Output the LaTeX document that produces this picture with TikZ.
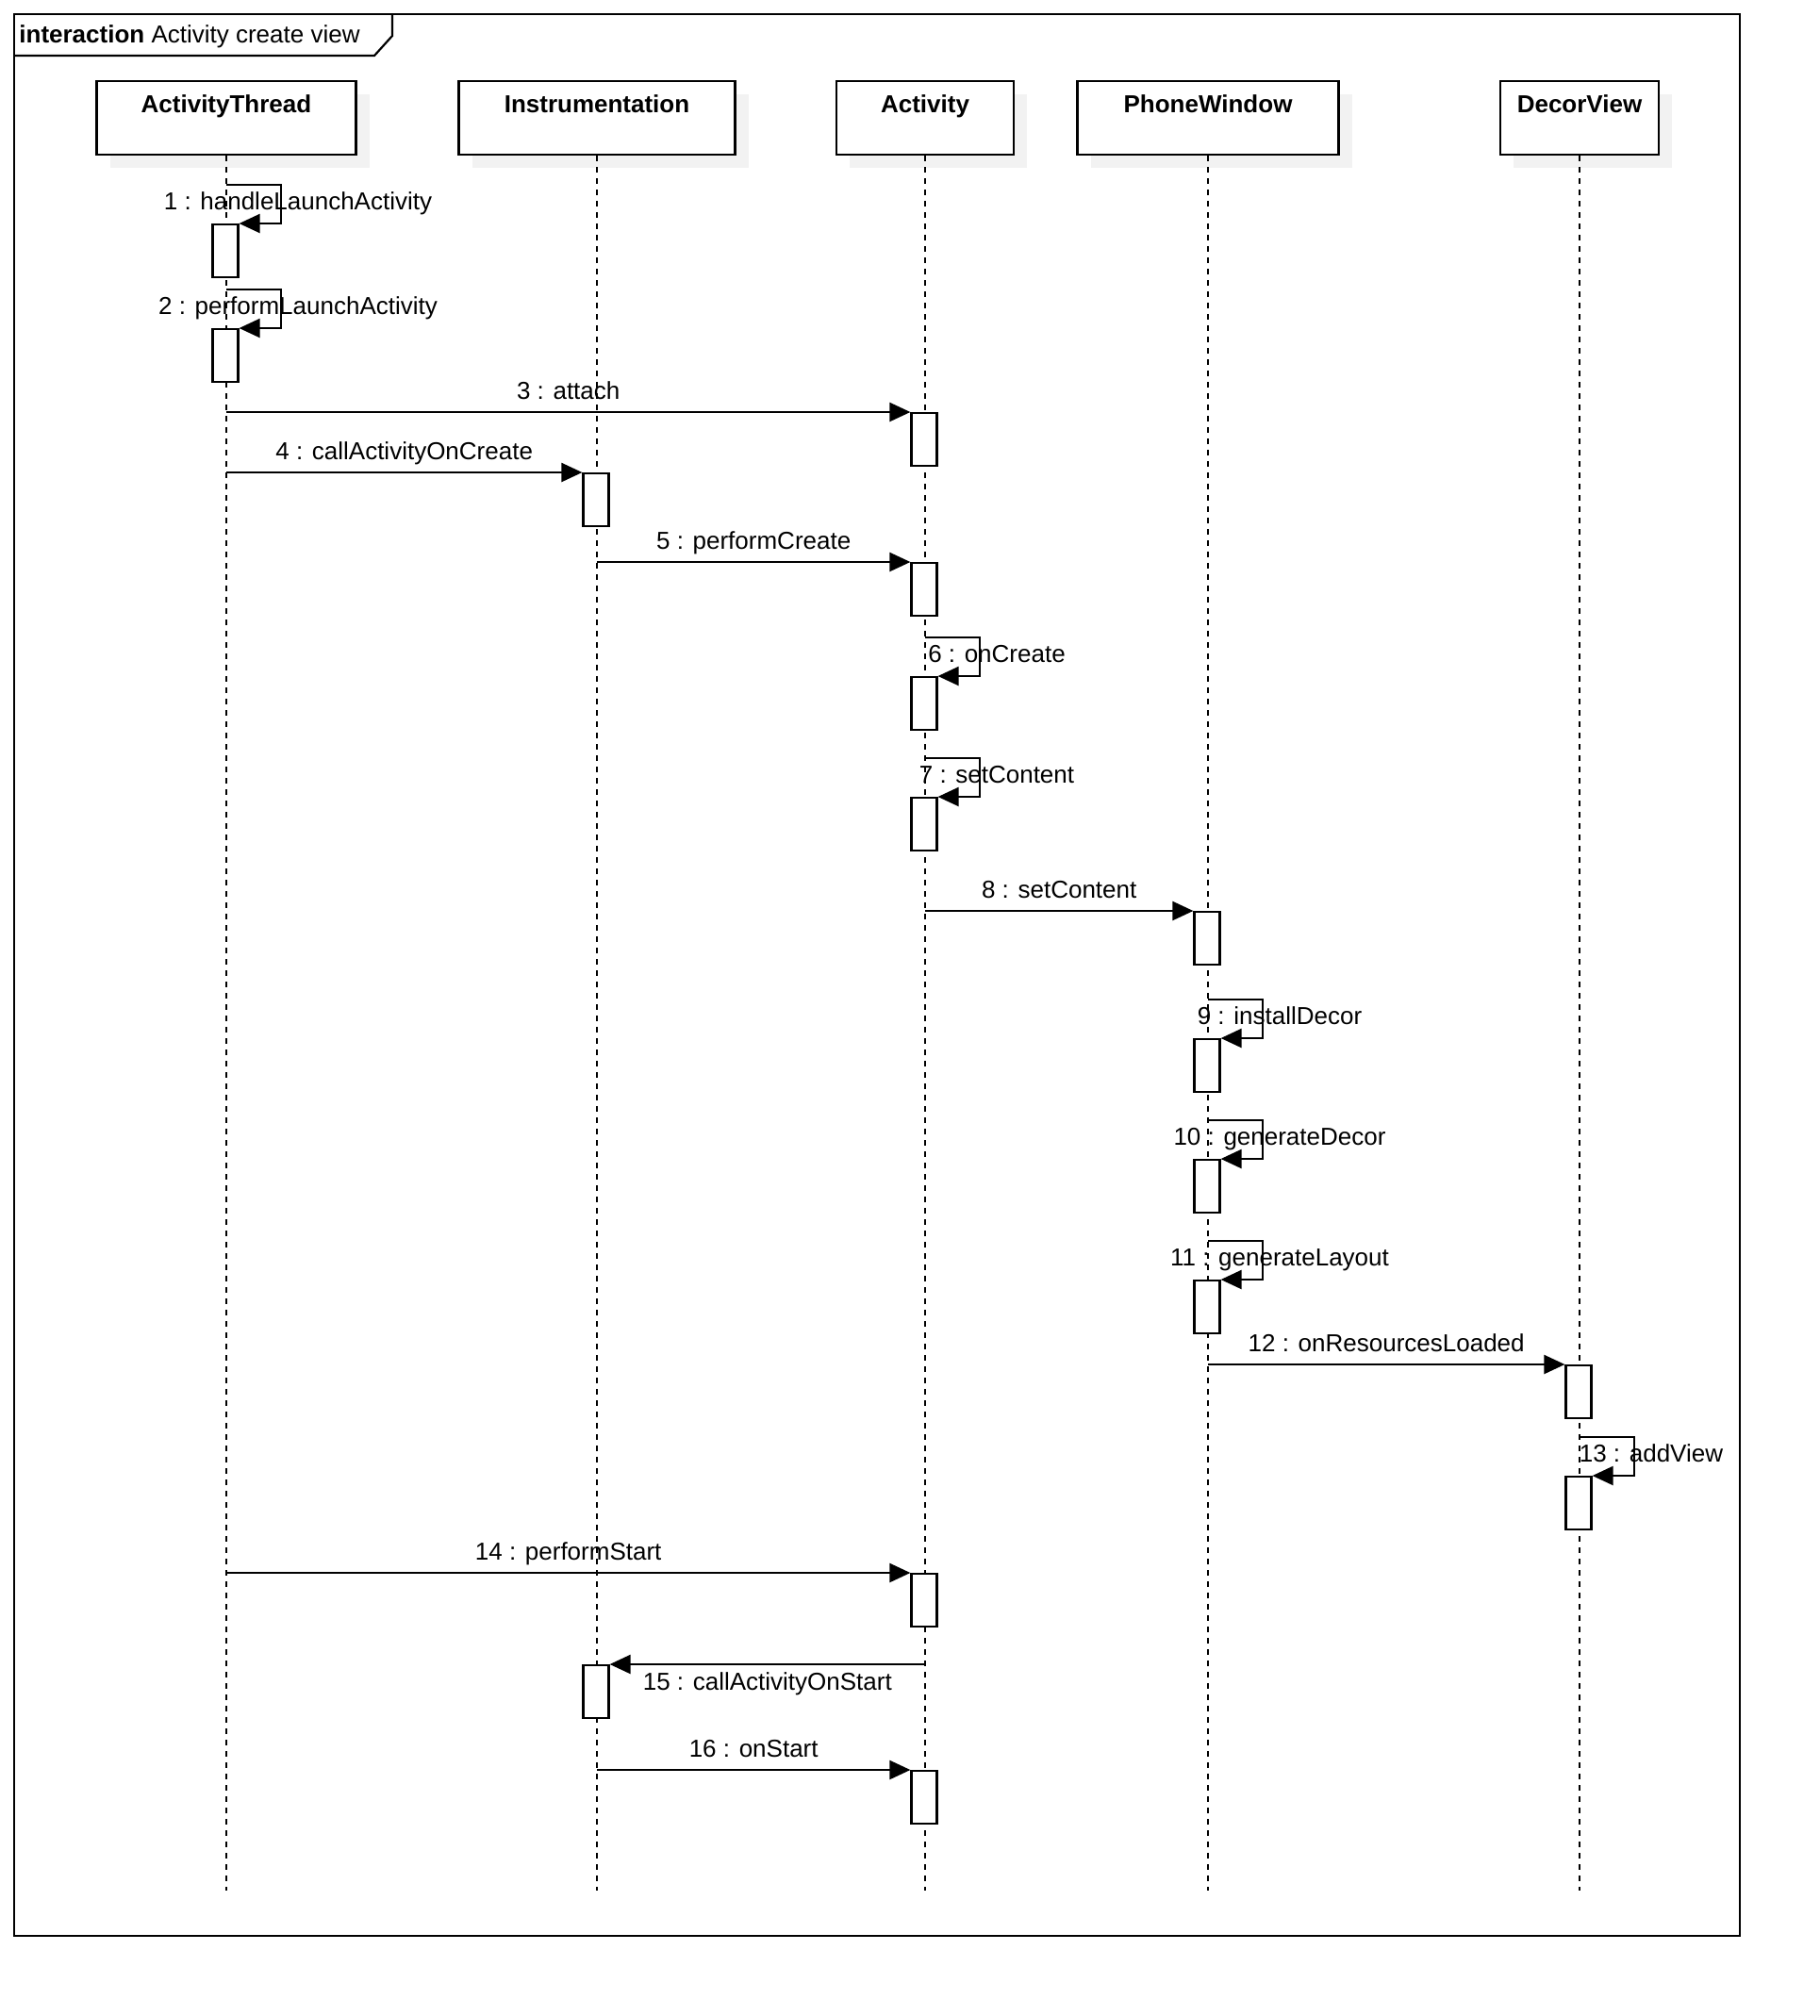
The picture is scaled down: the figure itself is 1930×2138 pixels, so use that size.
\documentclass[tikz,border=0pt]{standalone}
\usepackage{fontspec}
\setmainfont{Liberation Sans}
\usepackage{tikz}
\usetikzlibrary{arrows.meta, shadows}
\definecolor{shadowGrey}{HTML}{F2F2F2}
\definecolor{lineBlack}{HTML}{000000}

\begin{document}
\begin{tikzpicture}[x=0.5pt, y=-0.5pt, font=\fontsize{13}{15.6}\selectfont,
obj/.style={draw=lineBlack, line width=1.1pt, fill=white, anchor=north, inner xsep=0pt, inner ysep=0pt, text height=16.5pt, text depth=22.5pt, font=\fontsize{13}{15.6}\selectfont\bfseries, drop shadow={shadow xshift=7pt, shadow yshift=-7pt, fill=shadowGrey, draw=none, opacity=1}},
life/.style={line width=0.8pt, dash pattern=on 3pt off 3pt},
exec/.style={draw=lineBlack, line width=1.1pt, fill=white, anchor=north, minimum width=13.5pt, minimum height=28pt, inner sep=0pt},
msg/.style={line width=1.1pt, -{Triangle[length=11pt, width=10pt]}},
lbl/.style={midway, anchor=base, yshift=7pt},
lblbelow/.style={midway, anchor=base, yshift=-13.5pt},
selflbl/.style={anchor=base, xshift=38.5pt, yshift=7.5pt}]
\useasboundingbox (0,0) rectangle (1930,2138);
\draw[line width=1.1pt] (15,15) rectangle (1845,2053);
\draw[line width=1.1pt] (15,59) -- (397,59) -- (416,38) -- (416,15);
\node[anchor=base west, inner sep=0pt] (title) at (20,45) {\textbf{interaction} Activity create view};
\node[obj, minimum width=137.5pt] (thread) at (240,85) {ActivityThread};
\node[obj, minimum width=146.5pt] (instr) at (633,85) {Instrumentation};
\node[obj, minimum width=94pt] (activity) at (981,85) {Activity};
\node[obj, minimum width=138.5pt] (window) at (1281,85) {PhoneWindow};
\node[obj, minimum width=84pt] (decor) at (1675,85) {DecorView};
\coordinate (end) at (0,2005);
\draw[life] (thread.south) -- (thread.south |- end);
\draw[life] (instr.south) -- (instr.south |- end);
\draw[life] (activity.south) -- (activity.south |- end);
\draw[life] (window.south) -- (window.south |- end);
\draw[life] (decor.south) -- (decor.south |- end);
\node[exec] (e1) at (239,237) {};
\node[exec] (e2) at (239,348) {};
\node[exec] (e3) at (980,437) {};
\node[exec] (e4) at (632,501) {};
\node[exec] (e5) at (980,596) {};
\node[exec] (e6) at (980,717) {};
\node[exec] (e7) at (980,845) {};
\node[exec] (e8) at (1280,966) {};
\node[exec] (e9) at (1280,1101) {};
\node[exec] (e10) at (1280,1229) {};
\node[exec] (e11) at (1280,1357) {};
\node[exec] (e12) at (1674,1447) {};
\node[exec] (e13) at (1674,1565) {};
\node[exec] (e14) at (980,1668) {};
\node[exec] (e15) at (632,1765) {};
\node[exec] (e16) at (980,1877) {};
\draw[msg] ([yshift=20.5pt]e1.north -| thread) -- ++(58,0) |- (e1.north east);
\node[selflbl] (m1) at (e1.north) {1 : handleLaunchActivity};
\draw[msg] ([yshift=20.5pt]e2.north -| thread) -- ++(58,0) |- (e2.north east);
\node[selflbl] (m2) at (e2.north) {2 : performLaunchActivity};
\draw[msg] (thread |- e3.north) -- (e3.north west) node[lbl] (m3) {3 : attach};
\draw[msg] (thread |- e4.north) -- (e4.north west) node[lbl] (m4) {4 : callActivityOnCreate};
\draw[msg] (instr |- e5.north) -- (e5.north west) node[lbl] (m5) {5 : performCreate};
\draw[msg] ([yshift=20.5pt]e6.north -| activity) -- ++(58,0) |- (e6.north east);
\node[selflbl] (m6) at (e6.north) {6 : onCreate};
\draw[msg] ([yshift=20.5pt]e7.north -| activity) -- ++(58,0) |- (e7.north east);
\node[selflbl] (m7) at (e7.north) {7 : setContent};
\draw[msg] (activity |- e8.north) -- (e8.north west) node[lbl] (m8) {8 : setContent};
\draw[msg] ([yshift=20.5pt]e9.north -| window) -- ++(58,0) |- (e9.north east);
\node[selflbl] (m9) at (e9.north) {9 : installDecor};
\draw[msg] ([yshift=20.5pt]e10.north -| window) -- ++(58,0) |- (e10.north east);
\node[selflbl] (m10) at (e10.north) {10 : generateDecor};
\draw[msg] ([yshift=20.5pt]e11.north -| window) -- ++(58,0) |- (e11.north east);
\node[selflbl] (m11) at (e11.north) {11 : generateLayout};
\draw[msg] (window |- e12.north) -- (e12.north west) node[lbl] (m12) {12 : onResourcesLoaded};
\draw[msg] ([yshift=20.5pt]e13.north -| decor) -- ++(58,0) |- (e13.north east);
\node[selflbl] (m13) at (e13.north) {13 : addView};
\draw[msg] (thread |- e14.north) -- (e14.north west) node[lbl] (m14) {14 : performStart};
\draw[msg] (activity |- e15.north) -- (e15.north east) node[lblbelow] (m15) {15 : callActivityOnStart};
\draw[msg] (instr |- e16.north) -- (e16.north west) node[lbl] (m16) {16 : onStart};
\end{tikzpicture}
\end{document}
